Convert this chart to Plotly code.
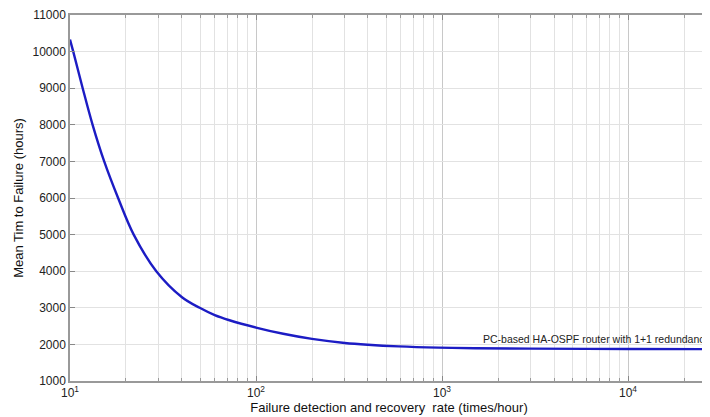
import plotly.graph_objects as go

# Data
rate = [10, 10.41, 11.7, 13.23, 15.27, 18.14, 22.0, 29.1, 40, 49.8, 60, 72, 100, 140, 200, 300, 400, 585, 955, 1500, 3000, 10000, 27000]
mttf = [10330, 10000, 9000, 8000, 7000, 6000, 5000, 4000, 3290, 3000, 2800, 2660, 2460, 2290, 2150, 2040, 1990, 1945, 1912, 1896, 1884, 1876, 1870]

x_tickvals = [10, 100, 1000, 10000]
x_ticktext = ["10<sup>1</sup>", "10<sup>2</sup>", "10<sup>3</sup>", "10<sup>4</sup>"]
y_tickvals = [1000, 2000, 3000, 4000, 5000, 6000, 7000, 8000, 9000, 10000, 11000]
y_ticktext = ["1000", "2000", "3000", "4000", "5000", "6000", "7000", "8000", "9000", "10000", "11000"]

annotation_text = "PC-based HA-OSPF router with 1+1 redundancy"
x_title = "Failure detection and recovery  rate (times/hour)"
y_title = "Mean Tim to Failure (hours)"

FONT = "Arial, Liberation Sans, Helvetica, sans-serif"

fig = go.Figure()
fig.add_trace(go.Scatter(
    x=rate, y=mttf, mode="lines",
    line=dict(color="#1c1cc4", width=2.4, shape="spline", smoothing=1.0),
    showlegend=False, hoverinfo="skip",
))

fig.add_annotation(
    x=3.212, y=2150, xref="x", yref="y",
    text=annotation_text, showarrow=False,
    xanchor="left", yanchor="middle",
    font=dict(family=FONT, size=10.5, color="#222222"),
)

# page body has an 8px margin: the figure is shrunk by 8px so it fits the window
fig.update_layout(
    width=702, height=409,
    margin=dict(l=62, r=0, t=7, b=36),
    paper_bgcolor="white", plot_bgcolor="white",
    font=dict(family=FONT, color="#222222"),
)

fig.update_xaxes(
    type="log", range=[1, 4.43],
    tickvals=x_tickvals, ticktext=x_ticktext,
    tickfont=dict(size=12, family=FONT, color="#222222"),
    ticks="inside", ticklen=5, tickcolor="#888888",
    showline=True, linecolor="#999999", linewidth=1.5, mirror="ticks",
    showgrid=True, gridcolor="#c8c8c8", gridwidth=1,
    minor=dict(ticks="inside", ticklen=3, tickcolor="#999999",
               showgrid=True, gridcolor="#e2e2e2", gridwidth=1,
               dtick="D1"),
    title=dict(text=x_title, font=dict(size=13, family=FONT, color="#111111"), standoff=4),
    zeroline=False,
)

fig.update_yaxes(
    range=[1000, 11000],
    tickvals=y_tickvals, ticktext=y_ticktext,
    tickfont=dict(size=12, family=FONT, color="#222222"),
    ticks="inside", ticklen=5, tickcolor="#888888",
    showline=True, linecolor="#999999", linewidth=1.5, mirror="ticks",
    showgrid=True, gridcolor="#e2e2e2", gridwidth=1,
    title=dict(text=y_title, font=dict(size=13, family=FONT, color="#111111"), standoff=6),
    zeroline=False,
)

fig.write_html("out.html")
